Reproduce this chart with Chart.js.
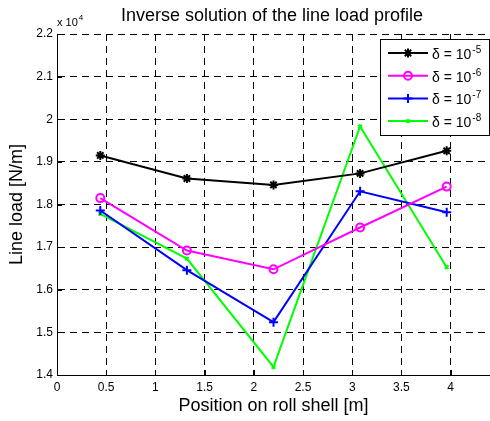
<!DOCTYPE html>
<html>
<head>
<meta charset="utf-8">
<script src="https://cdn.jsdelivr.net/npm/chart.js@4/dist/chart.umd.min.js"></script>
<style>
  html, body { margin: 0; padding: 0; background: #fff; }
  #wrap { width: 490px; height: 421px; }
</style>
</head>
<body>
<div id="wrap"><canvas id="c" width="490" height="421"></canvas></div>
<script>
// Sensor positions along the roll shell [m]
const positions = [0.44, 1.32, 2.2, 3.08, 3.96];
// Reconstructed line load [x 10^4 N/m] for each regularisation parameter delta
const loadDelta5 = [1.915, 1.861, 1.846, 1.873, 1.926];
const loadDelta6 = [1.815, 1.692, 1.648, 1.746, 1.842];
const loadDelta7 = [1.786, 1.646, 1.524, 1.831, 1.782];
const loadDelta8 = [1.778, 1.673, 1.419, 1.983, 1.653];
const deltaExponents = ['-5', '-6', '-7', '-8'];

const xTicks = [0, 0.5, 1, 1.5, 2, 2.5, 3, 3.5, 4];
const xTickLabels = ['0', '0.5', '1', '1.5', '2', '2.5', '3', '3.5', '4'];
const yTicks = [1.4, 1.5, 1.6, 1.7, 1.8, 1.9, 2.0, 2.1, 2.2];
const yTickLabels = ['1.4', '1.5', '1.6', '1.7', '1.8', '1.9', '2', '2.1', '2.2'];

const FONT = '"Liberation Sans", Arial, Helvetica, sans-serif';

function series(values) {
  return positions.map((x, i) => ({ x: x, y: values[i] }));
}
function labelFor(ticks, labels, v) {
  const k = ticks.findIndex(t => Math.abs(t - v) < 1e-6);
  return k < 0 ? '' : labels[k];
}

const styles = [
  { color: '#000000', pointStyle: 'star', radius: 4.5 },
  { color: '#ff00ff', pointStyle: 'circle', radius: 4 },
  { color: '#0000ff', pointStyle: 'cross', radius: 4.5 },
  { color: '#00ff00', pointStyle: 'crossRot', radius: 2.5 }
];
const allLoads = [loadDelta5, loadDelta6, loadDelta7, loadDelta8];

const datasets = allLoads.map((vals, i) => ({
  label: 'δ = 10' + deltaExponents[i],
  data: series(vals),
  borderColor: styles[i].color,
  backgroundColor: 'rgba(0,0,0,0)',
  borderWidth: 2,
  pointStyle: styles[i].pointStyle,
  pointRadius: styles[i].radius,
  pointBorderWidth: 2,
  pointBorderColor: styles[i].color,
  pointBackgroundColor: 'rgba(0,0,0,0)',
  pointHoverRadius: styles[i].radius,
  tension: 0,
  fill: false
}));

// Title, exponent label, inward ticks and the boxed legend
const decorations = {
  id: 'decorations',
  afterDraw(chart) {
    const ctx = chart.ctx;
    const area = chart.chartArea;
    const xs = chart.scales.x, ys = chart.scales.y;
    ctx.save();

    // inward tick marks
    ctx.strokeStyle = '#000';
    ctx.lineWidth = 1;
    ctx.setLineDash([]);
    ctx.beginPath();
    xTicks.forEach(v => {
      const px = Math.round(xs.getPixelForValue(v)) + 0.5;
      ctx.moveTo(px, area.bottom);
      ctx.lineTo(px, area.bottom - 5);
    });
    yTicks.forEach(v => {
      const py = Math.round(ys.getPixelForValue(v)) + 0.5;
      ctx.moveTo(area.left, py);
      ctx.lineTo(area.left + 5, py);
    });
    ctx.stroke();

    // chart title
    ctx.fillStyle = '#000';
    ctx.font = '18px ' + FONT;
    ctx.textAlign = 'center';
    ctx.textBaseline = 'alphabetic';
    ctx.fillText('Inverse solution of the line load profile', 272, 21);

    // y multiplier
    ctx.textAlign = 'left';
    ctx.font = '11px ' + FONT;
    ctx.fillText('x 10', 57, 26);
    const w10 = ctx.measureText('x 10').width;
    ctx.font = '8px ' + FONT;
    ctx.fillText('4', 57 + w10 + 1, 20);

    // legend box
    const bx = 380.5, by = 39.5, bw = 109, bh = 96;
    ctx.fillStyle = '#fff';
    ctx.fillRect(bx, by, bw, bh);
    ctx.strokeStyle = '#000';
    ctx.lineWidth = 1;
    ctx.strokeRect(bx, by, bw, bh);

    chart.data.datasets.forEach((ds, i) => {
      const ry = 53 + i * 22.7;
      ctx.strokeStyle = ds.borderColor;
      ctx.lineWidth = 2;
      ctx.beginPath();
      ctx.moveTo(388, ry);
      ctx.lineTo(428, ry);
      ctx.stroke();
      ctx.fillStyle = 'rgba(0,0,0,0)';
      Chart.helpers.drawPoint(ctx, {
        pointStyle: ds.pointStyle,
        radius: ds.pointRadius,
        rotation: 0,
        borderWidth: 2
      }, 408, ry);

      ctx.fillStyle = '#000';
      ctx.font = '14px ' + FONT;
      const base = ds.label.replace(deltaExponents[i], '');
      ctx.fillText(base, 432, ry + 6);
      const bw2 = ctx.measureText(base).width;
      ctx.font = '10px ' + FONT;
      ctx.fillText(deltaExponents[i], 432 + bw2 + 1, ry);
    });

    ctx.restore();
  }
};

new Chart(document.getElementById('c'), {
  type: 'line',
  data: { datasets: datasets },
  plugins: [decorations],
  options: {
    responsive: false,
    devicePixelRatio: 1,
    animation: false,
    layout: { autoPadding: false, padding: { top: 34, right: 0, bottom: 0, left: 0 } },
    plugins: {
      legend: { display: false },
      title: { display: false },
      tooltip: { enabled: false }
    },
    scales: {
      x: {
        type: 'linear',
        min: 0,
        max: 4.4,
        afterBuildTicks: s => { s.ticks = xTicks.map(v => ({ value: v })); },
        afterFit: s => { s.height = 46; },
        ticks: {
          callback: v => labelFor(xTicks, xTickLabels, v),
          color: '#000',
          font: { family: FONT, size: 12 },
          padding: 5,
          maxRotation: 0,
          autoSkip: false
        },
        grid: {
          color: c => (c.tick && labelFor(xTicks, xTickLabels, c.tick.value) === '') ? 'rgba(0,0,0,0)' : '#000',
          lineWidth: 1, drawTicks: false, tickLength: 0
        },
        border: { display: true, color: '#000', width: 1, dash: [7, 5] },
        title: {
          display: true,
          text: 'Position on roll shell [m]',
          color: '#000',
          font: { family: FONT, size: 18 },
          padding: { top: 0, bottom: 4 }
        }
      },
      y: {
        type: 'linear',
        min: 1.4,
        max: 2.2,
        afterBuildTicks: s => { s.ticks = yTicks.map(v => ({ value: v })); },
        afterFit: s => { s.width = 57; },
        ticks: {
          callback: v => labelFor(yTicks, yTickLabels, v),
          color: '#000',
          font: { family: FONT, size: 12 },
          padding: 4,
          autoSkip: false
        },
        grid: { color: '#000', lineWidth: 1, drawTicks: false, tickLength: 0 },
        border: { display: true, color: '#000', width: 1, dash: [7, 5] },
        title: {
          display: true,
          text: 'Line load [N/m]',
          color: '#000',
          font: { family: FONT, size: 18 },
          padding: { top: 6, bottom: 0 }
        }
      }
    }
  }
});
</script>
</body>
</html>
